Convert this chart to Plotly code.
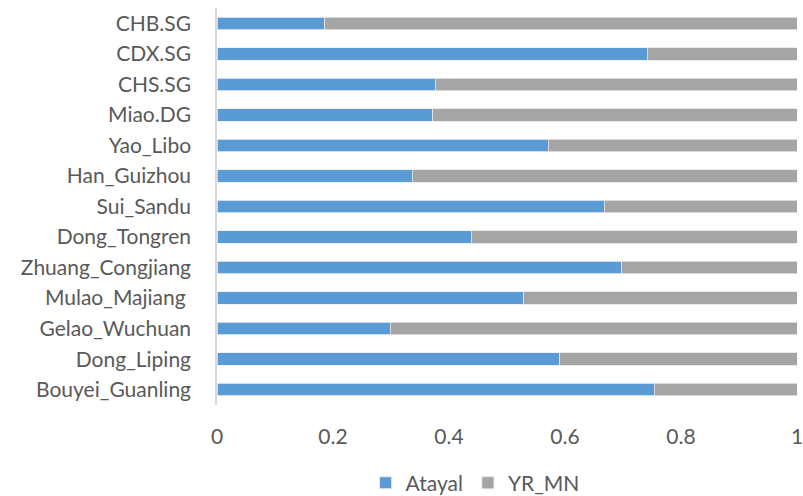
import plotly.graph_objects as go

populations = [
    "Bouyei_Guanling", "Dong_Liping", "Gelao_Wuchuan", "Mulao_Majiang\u00a0",
    "Zhuang_Congjiang", "Dong_Tongren", "Sui_Sandu", "Han_Guizhou",
    "Yao_Libo", "Miao.DG", "CHS.SG", "CDX.SG", "CHB.SG",
]
atayal = [0.754, 0.591, 0.299, 0.529, 0.698, 0.438, 0.668, 0.337,
          0.571, 0.372, 0.376, 0.742, 0.186]
yr_mn = [round(1 - a, 3) for a in atayal]

x_ticks = [0, 0.2, 0.4, 0.6, 0.8, 1]
x_tick_labels = ["0", "0.2", "0.4", "0.6", "0.8", "1"]

font_family = "Lato"
font_size = 21
text_color = "#595959"

fig = go.Figure()
fig.add_trace(go.Bar(
    y=populations, x=atayal, name="Atayal", orientation="h",
    marker=dict(color="#5B9BD5", line=dict(color="#e8eef6", width=0.8)),
))
fig.add_trace(go.Bar(
    y=populations, x=yr_mn, name="YR_MN", orientation="h",
    marker=dict(color="#A5A5A5", line=dict(color="#e6e6e6", width=0.8)),
))

fig.update_layout(
    barmode="stack",
    bargap=0.59,
    width=803, height=496,
    margin=dict(l=217, r=6, t=8, b=91),
    paper_bgcolor="white", plot_bgcolor="white",
    font=dict(family=font_family, size=font_size, color=text_color),
    showlegend=True,
    legend=dict(
        orientation="h", x=0.445, xanchor="center",
        yref="container", y=0.026, yanchor="middle",
        font=dict(size=font_size, color=text_color), traceorder="normal",
        itemwidth=30,
    ),
    xaxis=dict(
        range=[0, 1], tickvals=x_ticks, ticktext=x_tick_labels,
        showgrid=False, zeroline=False, showline=False, automargin=False,
        ticklabelstandoff=17, ticklabeloverflow="allow",
        tickfont=dict(size=font_size, color=text_color),
    ),
    yaxis=dict(
        categoryorder="array", categoryarray=populations,
        showgrid=False, zeroline=False, automargin=False,
        showline=True, linecolor="#d9d9d9", linewidth=1.5,
        ticklabelstandoff=20, tickfont=dict(size=font_size, color=text_color),
    ),
)

fig.write_html("out.html")
